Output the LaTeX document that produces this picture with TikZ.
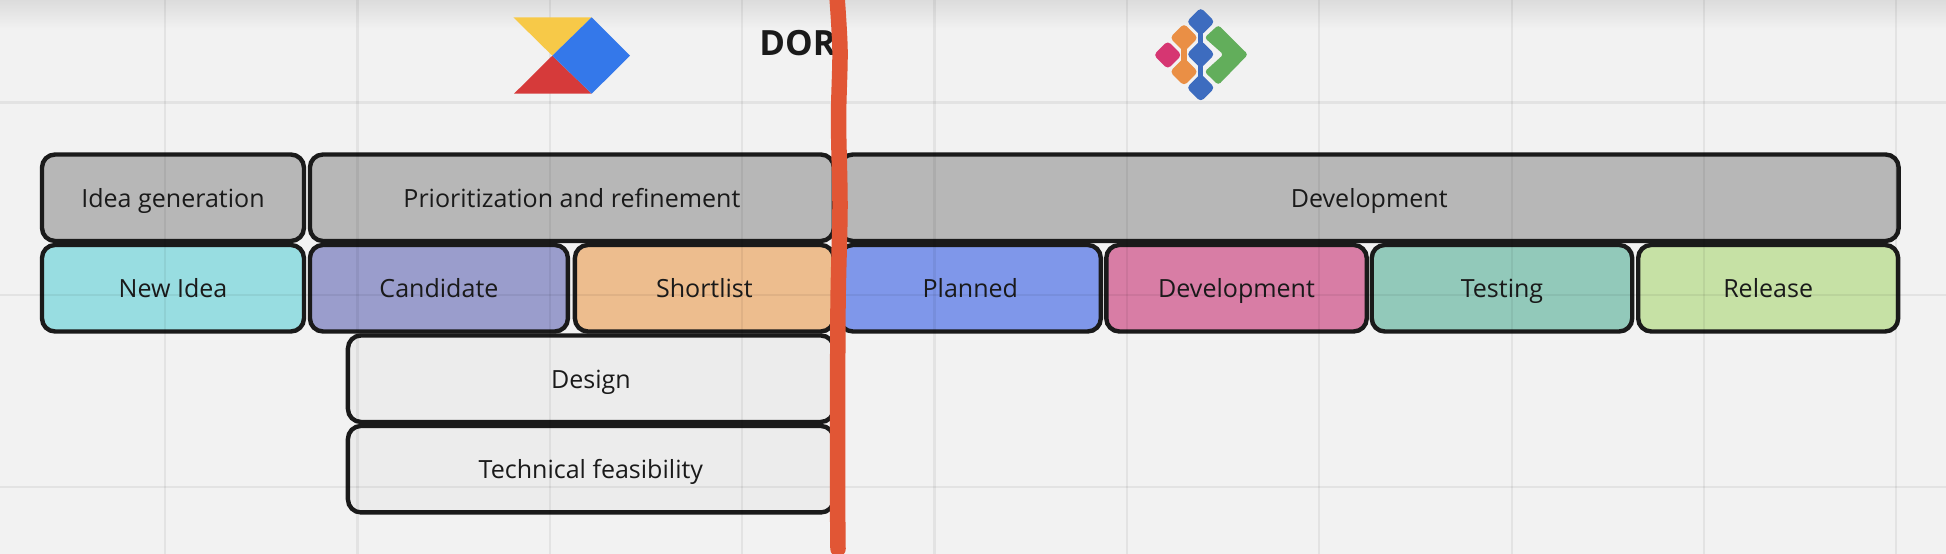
\documentclass[tikz,border=0pt]{standalone}
\usepackage{fontspec}
\setmainfont{Open Sans}
\usetikzlibrary{positioning}
\definecolor{paper}{HTML}{F2F2F2}
\definecolor{ink}{HTML}{1A1A1A}
\definecolor{headgray}{HTML}{B7B7B7}
\definecolor{newcyan}{HTML}{98DDE1}
\definecolor{candviolet}{HTML}{9A9DCC}
\definecolor{shortorange}{HTML}{EDBD8E}
\definecolor{planblue}{HTML}{7F97EA}
\definecolor{devpink}{HTML}{D87DA5}
\definecolor{testteal}{HTML}{92C9BA}
\definecolor{relgreen}{HTML}{C6E1A5}
\definecolor{checkgray}{HTML}{ECECEC}
\definecolor{marker}{HTML}{E15635}
\definecolor{logoyellow}{HTML}{F7C948}
\definecolor{logoblue}{HTML}{3478EA}
\definecolor{logored}{HTML}{D63A3A}
\definecolor{tileblue}{HTML}{3D6CBF}
\definecolor{tileorange}{HTML}{EA8F45}
\definecolor{tilepink}{HTML}{D63672}
\definecolor{tilegreen}{HTML}{62AE5B}

\begin{document}
\begin{tikzpicture}[x=0.02cm, y=-0.02cm,
                    stage/.style = {rectangle, draw=ink, line width=0.088cm, rounded corners=0.26cm,
                                    minimum height=1.73cm, inner sep=0pt, outer sep=0pt,
                                    text height=0.49cm, text depth=0.1cm,
                                    text=ink, font=\fontsize{14.25}{17}\selectfont},
                    tile/.style = {rectangle, rotate=45, rounded corners=0.08cm, minimum size=0.4cm,
                                   inner sep=0pt, outer sep=0pt},
                    gridline/.style = {black, opacity=0.06, line width=0.05cm}]
  \useasboundingbox (0,0) rectangle (1946,554);
  \fill [paper] (0,0) rectangle (1946,554);
  \shade [top color=black!9!paper, bottom color=paper] (0,0) rectangle (1946,30);

  % top row
  \node [stage, fill=headgray, minimum width=5.24cm, anchor=west] (ideagen) at (42,197.75) {Idea generation};
  \node [stage, fill=headgray, minimum width=10.48cm, right=0.12cm of ideagen] (priori) {Prioritization and refinement};
  \node [stage, fill=headgray, minimum width=21.18cm, right=0.12cm of priori] (devhead) {Development};

  % stages
  \node [stage, fill=newcyan, minimum width=5.24cm, below=0.08cm of ideagen] (newidea) {New Idea};
  \node [stage, fill=candviolet, minimum width=5.16cm, right=0.12cm of newidea] (candidate) {Candidate};
  \node [stage, fill=shortorange, minimum width=5.18cm, right=0.14cm of candidate] (shortlist) {Shortlist};
  \node [stage, fill=planblue, minimum width=5.22cm, right=0.12cm of shortlist] (planned) {Planned};
  \node [stage, fill=devpink, minimum width=5.21cm, right=0.11cm of planned] (development) {Development};
  \node [stage, fill=testteal, minimum width=5.21cm, right=0.1cm of development] (testing) {Testing};
  \node [stage, fill=relgreen, minimum width=5.2cm, right=0.12cm of testing] (release) {Release};

  % checks under the shortlist
  \node [stage, fill=checkgray, minimum width=9.72cm, below=0.08cm of shortlist.south east, anchor=north east] (design) {Design};
  \node [stage, fill=checkgray, minimum width=9.72cm, below=0.08cm of design] (techfeas) {Technical feasibility};

  % board grid shows through
  \foreach \gx in {165,357.5,550,742,934.5,1127,1319,1512,1704,1896}
    \draw [gridline] (\gx,0) -- (\gx,554);
  \foreach \gy in {102.7,295,487}
    \draw [gridline] (0,\gy) -- (1946,\gy);

  % left logo
  \fill [logoyellow] (513.3,17.3) -- (591.7,17.3) -- (552.3,55.7) -- cycle;
  \fill [logored] (552.3,55.7) -- (591.7,93.7) -- (514,93.7) -- cycle;
  \fill [logoblue] (591.7,17.3) -- (630,55.7) -- (591.7,93.7) -- (552.3,55.7) -- cycle;

  \node [anchor=base west, inner sep=0pt, text=ink, font=\fontsize{19.8}{24}\selectfont\bfseries] (dor) at (759,56) {DOR};

  % right logo
  \node [tile, fill=tileblue] (bluetop) at (1200.7,21.7) {};
  \node [tile, fill=tileblue] (bluemid) at (1200.7,54.3) {};
  \node [tile, fill=tileblue] (bluelow) at (1200.7,87.7) {};
  \node [tile, fill=tileorange] (orangetop) at (1184,37.7) {};
  \node [tile, fill=tileorange] (orangelow) at (1184,71.7) {};
  \node [tile, fill=tilepink] (pinktile) at (1167.7,55) {};
  \draw [tileblue, line width=0.11cm] (bluetop.center) -- (bluemid.center) -- (bluelow.center);
  \draw [tileorange, line width=0.11cm] (orangetop.center) -- (orangelow.center);
  \fill [tilegreen, rounded corners=0.06cm] (1218.3,25) -- (1248,54.5) -- (1218.3,85) -- (1204.5,71.7) -- (1223.5,54.5) -- (1204.5,37.7) -- cycle;

  % marker stroke
  \draw [marker, line width=0.31cm, line cap=round] plot [smooth] coordinates
    {(836.5,-10) (840,50) (838.5,120) (840,207) (838,307) (837.5,473) (838,549)};
\end{tikzpicture}
\end{document}
